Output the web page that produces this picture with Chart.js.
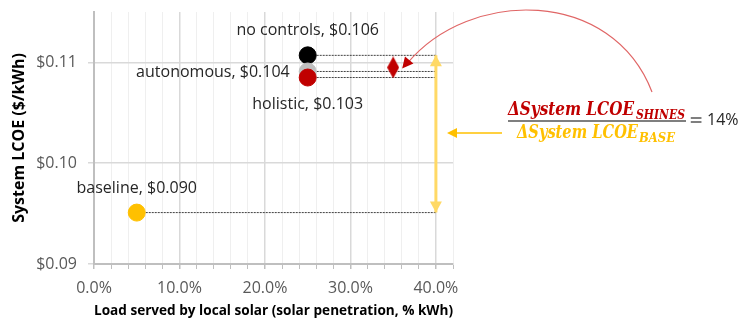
<!DOCTYPE html>
<html>
<head>
<meta charset="utf-8">
<script src="https://cdn.jsdelivr.net/npm/chart.js@4"></script>
<style>
  html, body { margin: 0; padding: 0; background: #fff; }
  #wrap { width: 738px; height: 320px; }
</style>
</head>
<body>
<div id="wrap"><canvas id="lcoeChart" width="738" height="320"></canvas></div>
<script>
// scenario data (x = solar penetration, y = plotted system LCOE)
const scenarios = ['no controls', 'autonomous', 'holistic', 'baseline'];
const penetration = [0.25, 0.25, 0.25, 0.05];
const plottedLcoe = [0.1107, 0.1091, 0.1085, 0.0951];
const labelLcoe = ['$0.106', '$0.104', '$0.103', '$0.090'];
const pointColors = ['#000000', '#bfbfbf', '#c00000', '#ffc000'];
const shinesPenetration = [0.35];
const shinesLcoe = [0.1095];
const refPenetration = 0.40;
const xTicks = [0, 0.02, 0.04, 0.06, 0.08, 0.10, 0.12, 0.14, 0.16, 0.18, 0.20,
                0.22, 0.24, 0.26, 0.28, 0.30, 0.32, 0.34, 0.36, 0.38, 0.40, 0.42];
const yTicks = [0.09, 0.10, 0.11];

const tickFont = { family: 'Open Sans', size: 16 };
const isMajor = v => Math.abs(v * 10 - Math.round(v * 10)) < 1e-6;

// elongated red diamond for the SHINES marker
const diamond = document.createElement('canvas');
diamond.width = 12; diamond.height = 22;
(function () {
    const c = diamond.getContext('2d');
    c.fillStyle = '#c00000';
    c.beginPath();
    c.moveTo(6, 0); c.lineTo(12, 11); c.lineTo(6, 22); c.lineTo(0, 11);
    c.closePath(); c.fill();
})();

// dotted leader lines from each scenario to the 40% reference
const leaderSets = scenarios.map((s, i) => ({
    type: 'line',
    data: [{ x: penetration[i], y: plottedLcoe[i] }, { x: refPenetration, y: plottedLcoe[i] }],
    borderColor: '#404040',
    borderWidth: 1,
    borderDash: [2, 1],
    pointRadius: 0,
    order: 5
}));

function arrowHead(ctx, x, y, angle, len, half, color) {
    ctx.save();
    ctx.translate(x, y);
    ctx.rotate(angle);
    ctx.fillStyle = color;
    ctx.beginPath();
    ctx.moveTo(0, 0);
    ctx.lineTo(-len, -half);
    ctx.lineTo(-len, half);
    ctx.closePath();
    ctx.fill();
    ctx.restore();
}

// bold italic serif text squeezed horizontally to span the given width
function mathText(ctx, text, x, y, size, width) {
    ctx.save();
    ctx.font = 'italic bold ' + size + 'px "DejaVu Serif"';
    const k = width / ctx.measureText(text).width;
    ctx.translate(x, y);
    ctx.scale(k, 1);
    ctx.fillText(text, 0, 0);
    ctx.restore();
}

const annotations = {
    id: 'annotations',
    afterDatasetsDraw(chart) {
        const ctx = chart.ctx;
        const xs = chart.scales.x, ys = chart.scales.y;
        const pts = chart.getDatasetMeta(0).data;

        // point labels
        ctx.save();
        ctx.font = '16px "Open Sans"';
        ctx.fillStyle = '#262626';
        ctx.textBaseline = 'middle';
        const place = [
            { dx: 0, dy: -25, align: 'center' },
            { dx: -18, dy: 1, align: 'right' },
            { dx: 0, dy: 27, align: 'center' },
            { dx: 0, dy: -24, align: 'center' }
        ];
        scenarios.forEach((s, i) => {
            const p = pts[i];
            ctx.textAlign = place[i].align;
            ctx.fillText(s + ', ' + labelLcoe[i], p.x + place[i].dx, p.y + place[i].dy);
        });
        ctx.restore();

        // yellow double arrow heads
        const ax = xs.getPixelForValue(refPenetration);
        const yTop = ys.getPixelForValue(plottedLcoe[0]);
        const yBot = ys.getPixelForValue(plottedLcoe[3]);
        arrowHead(ctx, ax, yTop, -Math.PI / 2, 11, 6, '#ffd966');
        arrowHead(ctx, ax, yBot, Math.PI / 2, 11, 6, '#ffd966');

        // horizontal yellow pointer
        const ym = 133;
        ctx.save();
        ctx.strokeStyle = '#ffc000';
        ctx.lineWidth = 1.5;
        ctx.beginPath();
        ctx.moveTo(502, ym);
        ctx.lineTo(455, ym);
        ctx.stroke();
        ctx.restore();
        arrowHead(ctx, 447, ym, Math.PI, 10, 5, '#ffc000');

        // red curved pointer to the diamond
        const d = chart.getDatasetMeta(1).data[0];
        const ex = d.x + 9, ey = d.y + 1;
        ctx.save();
        ctx.strokeStyle = '#e06666';
        ctx.lineWidth = 1.2;
        ctx.beginPath();
        ctx.moveTo(652, 92);
        ctx.bezierCurveTo(612, -12, 470, -12, ex + 5, ey - 5);
        ctx.stroke();
        ctx.restore();
        arrowHead(ctx, ex, ey, Math.atan2(6, -5), 11, 5.5, '#c00000');

        // fraction
        ctx.save();
        ctx.textBaseline = 'alphabetic';
        ctx.textAlign = 'left';
        ctx.fillStyle = '#c00000';
        mathText(ctx, '\u0394System LCOE', 508, 115, 18, 126);
        mathText(ctx, 'SHINES', 636, 119, 12.5, 49);
        ctx.fillStyle = '#ffc000';
        mathText(ctx, '\u0394System LCOE', 517, 138, 18, 121);
        mathText(ctx, 'BASE', 639, 142, 12.5, 36);
        ctx.strokeStyle = '#7f7f7f';
        ctx.lineWidth = 2;
        ctx.beginPath();
        ctx.moveTo(508, 121);
        ctx.lineTo(686, 121);
        ctx.stroke();
        ctx.font = 'bold 17px "DejaVu Sans"';
        ctx.fillStyle = '#7f7f7f';
        ctx.textBaseline = 'middle';
        ctx.fillText('=', 689, 122);
        ctx.font = '16px "Open Sans"';
        ctx.fillStyle = '#262626';
        ctx.fillText('14%', 707, 120);
        ctx.restore();
    }
};

new Chart(document.getElementById('lcoeChart'), {
    type: 'scatter',
    data: {
        datasets: [
            {
                data: scenarios.map((s, i) => ({ x: penetration[i], y: plottedLcoe[i] })),
                backgroundColor: pointColors,
                borderColor: pointColors,
                pointRadius: 8.5,
                pointHoverRadius: 8.5,
                order: 0
            },
            {
                data: shinesPenetration.map((p, i) => ({ x: p, y: shinesLcoe[i] })),
                pointStyle: diamond,
                order: 1
            },
            {
                type: 'line',
                data: [{ x: refPenetration, y: plottedLcoe[0] }, { x: refPenetration, y: plottedLcoe[3] }],
                borderColor: '#ffd966',
                borderWidth: 3,
                pointRadius: 0,
                order: 4
            },
            ...leaderSets
        ]
    },
    options: {
        responsive: false,
        animation: false,
        events: [],
        layout: { padding: { top: 12, right: 285, left: 0, bottom: 0 } },
        plugins: { legend: { display: false }, tooltip: { enabled: false } },
        scales: {
            x: {
                type: 'linear',
                min: 0,
                max: 0.42,
                afterBuildTicks: s => { s.ticks = xTicks.map(v => ({ value: v })); },
                afterFit: s => { s.height = 56; s.paddingRight = 0; },
                ticks: {
                    autoSkip: false,
                    maxRotation: 0,
                    padding: 10,
                    color: '#595959',
                    font: tickFont,
                    callback: v => isMajor(v) ? (v * 100).toFixed(1) + '%' : ''
                },
                grid: {
                    color: c => isMajor(c.tick.value) ? '#d9d9d9' : '#efefef',
                    lineWidth: c => isMajor(c.tick.value) ? 1.5 : 1,
                    tickColor: '#bfbfbf',
                    tickLength: 5
                },
                border: { color: '#bfbfbf', width: 2 },
                title: {
                    display: true,
                    text: 'Load served by local solar (solar penetration, % kWh)',
                    color: '#000',
                    font: { family: 'Open Sans', size: 14.4, weight: 'bold' },
                    padding: { top: 0, bottom: 0 }
                }
            },
            y: {
                type: 'linear',
                min: 0.09,
                max: 0.115,
                afterBuildTicks: s => { s.ticks = yTicks.map(v => ({ value: v })); },
                afterFit: s => { s.width = 94; s.paddingTop = 0; s.paddingBottom = 0; },
                ticks: {
                    padding: 11,
                    color: '#595959',
                    font: tickFont,
                    callback: v => '$' + v.toFixed(2)
                },
                grid: {
                    color: '#d9d9d9',
                    lineWidth: 1.5,
                    tickLength: 6
                },
                border: { color: '#bfbfbf', width: 2 },
                title: {
                    display: true,
                    text: 'System LCOE ($/kWh)',
                    color: '#000',
                    font: { family: 'Open Sans', size: 16, weight: 'bold' },
                    padding: { top: 10, bottom: 0 }
                }
            }
        }
    },
    plugins: [annotations]
});
</script>
</body>
</html>
